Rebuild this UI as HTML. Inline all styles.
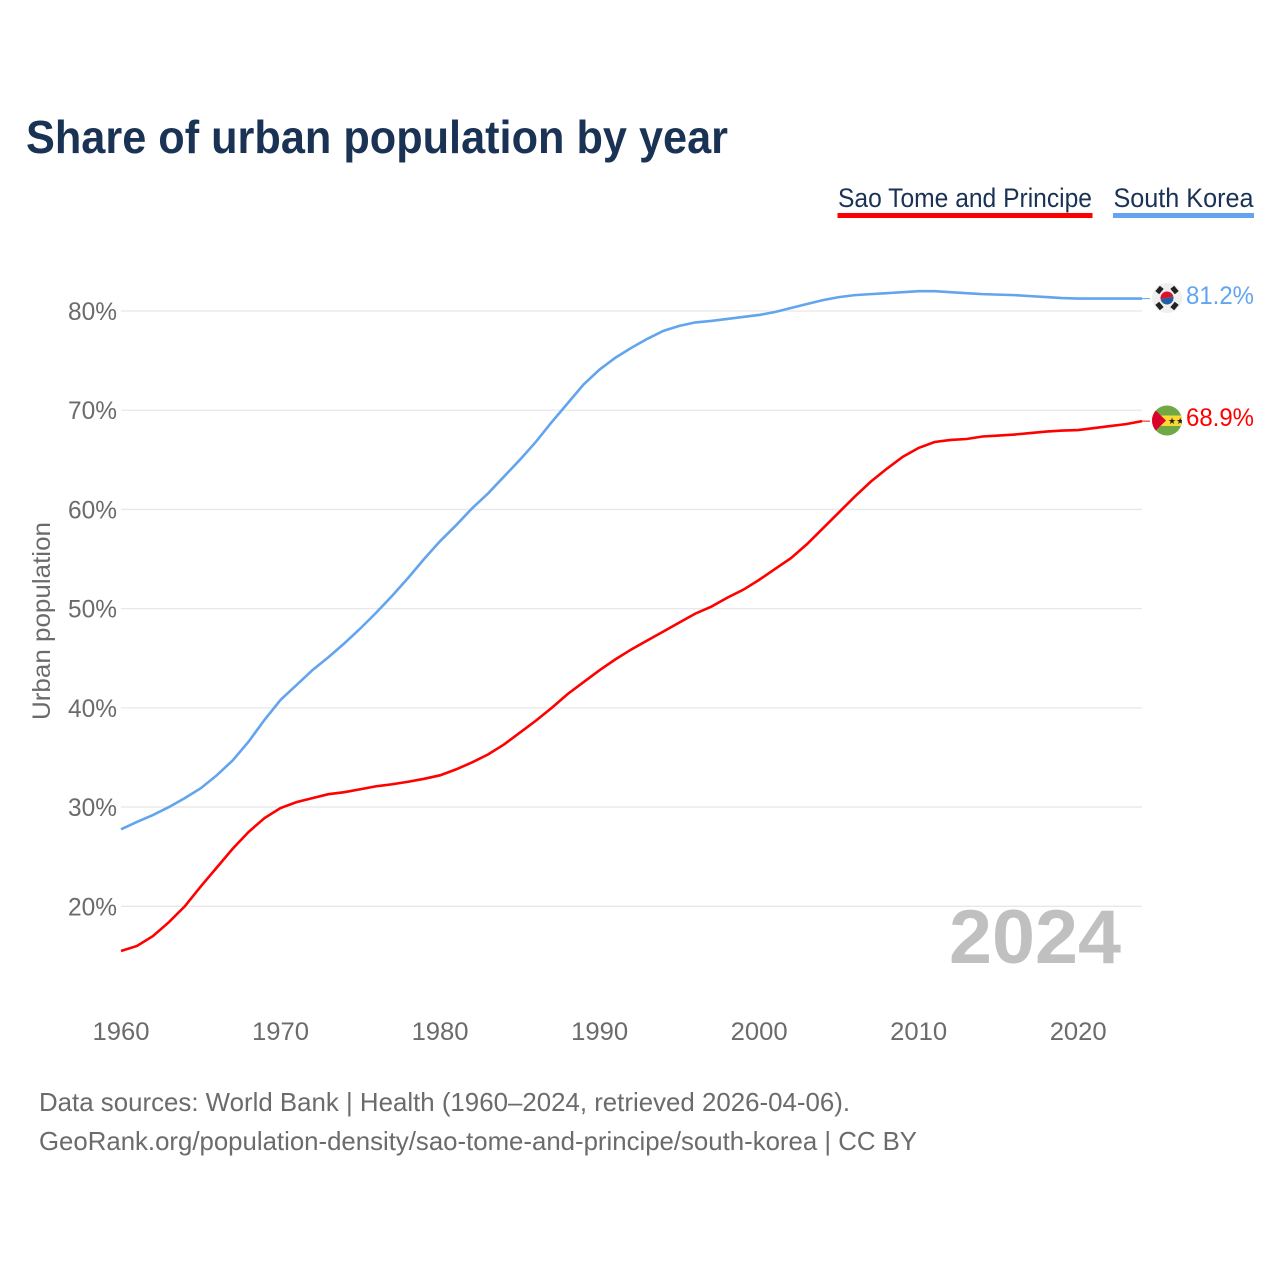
<!DOCTYPE html>
<html lang="en">
<head>
<meta charset="utf-8">
<title>Share of urban population by year</title>
<style>
html,body{margin:0;padding:0;background:#fff;}
svg{display:block;}
text{font-family:"Liberation Sans",Arial,sans-serif;}
</style>
</head>
<body>
<svg id="chart" xmlns="http://www.w3.org/2000/svg" width="1280" height="1280" viewBox="0 0 1280 1280">
  <defs>
    <clipPath id="clip-kr"><circle cx="1167" cy="298" r="15"/></clipPath>
    <clipPath id="clip-st"><circle cx="1167" cy="420.5" r="15"/></clipPath>
  </defs>
  <rect width="1280" height="1280" fill="#fff"/>
  <text x="26" y="153" font-size="46" font-weight="700" fill="#1a3355" textLength="702" lengthAdjust="spacingAndGlyphs">Share of urban population by year</text>

  <g>
    <g>
      <text x="838" y="207" font-size="27" fill="#1a3355" textLength="254" lengthAdjust="spacingAndGlyphs">Sao Tome and Principe</text>
      <rect x="837.5" y="213" width="255" height="5" fill="#ff0000"/>
    </g>
    <g>
      <text x="1113.5" y="207" font-size="27" fill="#1a3355" textLength="140" lengthAdjust="spacingAndGlyphs">South Korea</text>
      <rect x="1113" y="213" width="141" height="5" fill="#62a5ee"/>
    </g>
  </g>

  <g id="grid"></g>
  <g id="yticks"></g>
  <g id="xticks"></g>
  <text transform="translate(50,720) rotate(-90)" font-size="25" fill="#6b6b6b" textLength="198" lengthAdjust="spacingAndGlyphs">Urban population</text>
  <text x="1121" y="963" text-anchor="end" font-size="76" font-weight="700" fill="#c0c0c0" textLength="172" lengthAdjust="spacingAndGlyphs">2024</text>

  <g id="series"></g>

  <g clip-path="url(#clip-kr)">
    <rect x="1152" y="283" width="30" height="30" fill="#efefef"/>
    <g transform="rotate(-12 1167 298)">
      <path d="M1160.5 298a6.5 6.5 0 0 1 13 0z" fill="#d8132e"/>
      <path d="M1160.5 298a6.5 6.5 0 0 0 13 0z" fill="#1f5fa8"/>
    </g>
    <g fill="#222">
      <rect x="1156" y="287.5" width="7" height="5" transform="rotate(-50 1159.5 290)"/>
      <rect x="1171" y="287.5" width="7" height="5" transform="rotate(50 1174.5 290)"/>
      <rect x="1156" y="303.5" width="7" height="5" transform="rotate(50 1159.5 306)"/>
      <rect x="1171" y="303.5" width="7" height="5" transform="rotate(-50 1174.5 306)"/>
    </g>
  </g>
  <g clip-path="url(#clip-st)">
    <rect x="1152" y="405" width="30" height="31" fill="#70a845"/>
    <rect x="1152" y="415.5" width="30" height="10.5" fill="#fdd835"/>
    <path d="M1150 405 L1166 420.5 L1150 436z" fill="#d9002b"/>
    <text x="1168" y="424" font-size="9" fill="#222">★★</text>
  </g>
  <text x="1186" y="304" font-size="25" fill="#62a5ee" textLength="68" lengthAdjust="spacingAndGlyphs">81.2%</text>
  <text x="1186" y="426" font-size="25" fill="#ff0000" textLength="68" lengthAdjust="spacingAndGlyphs">68.9%</text>

  <text x="39" y="1111" font-size="26" fill="#6b6b6b" textLength="811" lengthAdjust="spacingAndGlyphs">Data sources: World Bank | Health (1960–2024, retrieved 2026-04-06).</text>
  <text x="39" y="1150" font-size="26" fill="#6b6b6b" textLength="878" lengthAdjust="spacingAndGlyphs">GeoRank.org/population-density/sao-tome-and-principe/south-korea | CC BY</text>
</svg>
<script>
const startYear = 1960;
const yTicks = [20, 30, 40, 50, 60, 70, 80];
const xTicks = [1960, 1970, 1980, 1990, 2000, 2010, 2020];
const southKorea = [27.76,28.5,29.2,30.0,30.9,31.9,33.2,34.7,36.6,38.8,40.8,42.3,43.8,45.1,46.5,48.0,49.6,51.3,53.1,55.0,56.8,58.4,60.1,61.6,63.3,65.0,66.8,68.8,70.7,72.6,74.1,75.3,76.3,77.2,78.0,78.5,78.85,79.0,79.2,79.4,79.6,79.9,80.3,80.7,81.1,81.4,81.6,81.7,81.8,81.9,82.0,82.0,81.9,81.8,81.7,81.65,81.6,81.5,81.4,81.3,81.25,81.25,81.25,81.25,81.25];
const saoTome = [15.5,16.0,17.0,18.4,20.0,22.0,23.9,25.8,27.5,28.9,29.9,30.5,30.9,31.3,31.5,31.8,32.1,32.3,32.55,32.85,33.2,33.8,34.5,35.3,36.3,37.5,38.7,40.0,41.4,42.6,43.8,44.9,45.9,46.8,47.7,48.6,49.5,50.2,51.1,51.9,52.9,54.0,55.1,56.5,58.1,59.7,61.3,62.8,64.1,65.3,66.2,66.8,67.0,67.1,67.35,67.45,67.55,67.7,67.85,67.95,68.0,68.2,68.4,68.6,68.9];

const NS = 'http://www.w3.org/2000/svg';
function xScale(year) { return 121 + (year - 1960) * (1142 - 121) / 64; }
function yScale(v) { return 906.3 - (v - 20) * (906.3 - 311) / 60; }

const grid = document.getElementById('grid');
const yG = document.getElementById('yticks');
const xG = document.getElementById('xticks');
const seriesG = document.getElementById('series');

yTicks.forEach(function (t) {
  const line = document.createElementNS(NS, 'line');
  
  
  line.setAttribute('x1', 121);
  line.setAttribute('x2', 1142);
  line.setAttribute('y1', yScale(t));
  line.setAttribute('y2', yScale(t));
  line.setAttribute('stroke', '#e8e8e8');
  line.setAttribute('stroke-width', 1.3);
  grid.appendChild(line);

  const label = document.createElementNS(NS, 'text');
  
  
  label.setAttribute('x', 117);
  label.setAttribute('y', yScale(t) + 9);
  label.setAttribute('text-anchor', 'end');
  label.setAttribute('font-size', 25);
  label.setAttribute('fill', '#6b6b6b');
  label.setAttribute('textLength', 49);
  label.setAttribute('lengthAdjust', 'spacingAndGlyphs');
  label.textContent = t + '%';
  yG.appendChild(label);
});

xTicks.forEach(function (t) {
  const label = document.createElementNS(NS, 'text');
  
  
  label.setAttribute('x', xScale(t));
  label.setAttribute('y', 1040);
  label.setAttribute('text-anchor', 'middle');
  label.setAttribute('font-size', 25);
  label.setAttribute('fill', '#6b6b6b');
  label.setAttribute('textLength', 57);
  label.setAttribute('lengthAdjust', 'spacingAndGlyphs');
  label.textContent = t;
  xG.appendChild(label);
});

function pointsFor(values) {
  return values.map(function (v, i) {
    return xScale(startYear + i).toFixed(2) + ',' + yScale(v).toFixed(2);
  }).join(' ');
}

const koreaLine = document.createElementNS(NS, 'polyline');


koreaLine.setAttribute('points', pointsFor(southKorea));
koreaLine.setAttribute('fill', 'none');
koreaLine.setAttribute('stroke', '#62a5ee');
koreaLine.setAttribute('stroke-width', 2.6);
seriesG.appendChild(koreaLine);

const saoLine = document.createElementNS(NS, 'polyline');


saoLine.setAttribute('points', pointsFor(saoTome));
saoLine.setAttribute('fill', 'none');
saoLine.setAttribute('stroke', '#ff0000');
saoLine.setAttribute('stroke-width', 2.6);
seriesG.appendChild(saoLine);

const koreaLead = document.createElementNS(NS, 'line');


koreaLead.setAttribute('x1', xScale(2024));
koreaLead.setAttribute('x2', 1150);
koreaLead.setAttribute('y1', yScale(southKorea[southKorea.length - 1]));
koreaLead.setAttribute('y2', yScale(southKorea[southKorea.length - 1]));
koreaLead.setAttribute('stroke', '#62a5ee');
koreaLead.setAttribute('stroke-width', 1);
seriesG.appendChild(koreaLead);

const saoLead = document.createElementNS(NS, 'line');


saoLead.setAttribute('x1', xScale(2024));
saoLead.setAttribute('x2', 1150);
saoLead.setAttribute('y1', yScale(saoTome[saoTome.length - 1]));
saoLead.setAttribute('y2', yScale(saoTome[saoTome.length - 1]));
saoLead.setAttribute('stroke', '#ff0000');
saoLead.setAttribute('stroke-width', 1);
seriesG.appendChild(saoLead);
</script>
</body>
</html>
